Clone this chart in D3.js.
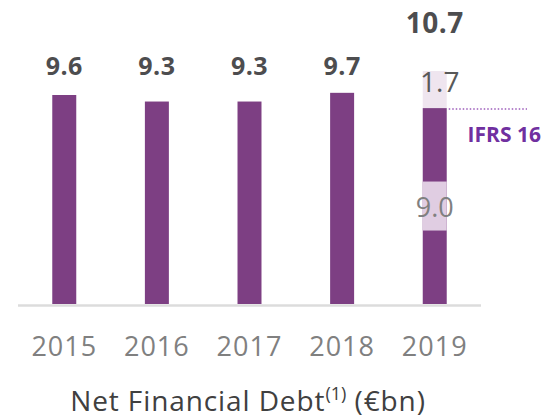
<!DOCTYPE html>
<html>
<head>
<meta charset="utf-8">
<script src="https://cdn.jsdelivr.net/npm/d3@7"></script>
<style>
  body { margin: 0; background: #fff; }
  svg { display: block; font-family: "Open Sans", sans-serif; }
</style>
</head>
<body>
<div id="chart"></div>
<script>
// --- data ---
const years = ["2015", "2016", "2017", "2018", "2019"];
const netDebt = [9.6, 9.3, 9.3, 9.7, 9.0];     // pre-IFRS 16
const ifrs16 = [0, 0, 0, 0, 1.7];             // IFRS 16 impact
const totals = [9.6, 9.3, 9.3, 9.7, 10.7];

const width = 547, height = 418;
const svg = d3.select("#chart").append("svg")
    .attr("width", width)
    .attr("height", height);

const baseY = 304;
const x = d3.scaleBand()
    .domain(years)
    .range([18, 481])
    .paddingInner(0.741)
    .paddingOuter(0.37);

const y = d3.scaleLinear()
    .domain([0, 9.6])
    .range([baseY, 95]);

const purple = "#7d3f83";

// baseline
svg.append("line")
    .attr("x1", 18).attr("x2", 481)
    .attr("y1", baseY + 1.5).attr("y2", baseY + 1.5)
    .attr("stroke", "#dcdcdc")
    .attr("stroke-width", 2.5);

// main bars
svg.selectAll("rect.main")
    .data(years)
    .join("rect")
    .attr("class", "main")
    .attr("x", d => x(d))
    .attr("y", (d, i) => y(netDebt[i]))
    .attr("width", x.bandwidth())
    .attr("height", (d, i) => baseY - y(netDebt[i]))
    .attr("fill", purple);

// IFRS 16 segment
svg.selectAll("rect.ifrs")
    .data(years.filter((d, i) => ifrs16[i] > 0))
    .join("rect")
    .attr("class", "ifrs")
    .attr("x", d => x(d))
    .attr("y", d => y(totals[years.indexOf(d)]))
    .attr("width", x.bandwidth())
    .attr("height", d => {
        const i = years.indexOf(d);
        return y(netDebt[i]) - y(totals[i]);
    })
    .attr("fill", "#efe5ef");

// top labels
const labelRow = y(9.6) - 20;
svg.selectAll("text.total")
    .data(years)
    .join("text")
    .attr("class", "total")
    .attr("x", d => x(d) + x.bandwidth() / 2)
    .attr("y", (d, i) => ifrs16[i] > 0 ? y(totals[i]) - 38 : labelRow)
    .attr("text-anchor", "middle")
    .attr("fill", "#4d4d4f")
    .style("font-weight", "bold")
    .style("font-size", (d, i) => ifrs16[i] > 0 ? "28px" : "25px")
    .style("letter-spacing", "0.5px")
    .text((d, i) => totals[i].toFixed(1));

// 2019 detail labels
const i19 = years.length - 1;
const cx19 = x(years[i19]) + x.bandwidth() / 2;

svg.append("text")
    .attr("x", cx19 + 5)
    .attr("y", y(totals[i19]) + 21)
    .attr("text-anchor", "middle")
    .attr("fill", "#595959")
    .style("font-size", "28px")
    .text(ifrs16[i19].toFixed(1));

// 9.0 label box in the middle of the bar
const midY = y(netDebt[i19] / 2);
svg.append("rect")
    .attr("x", x(years[i19]))
    .attr("y", midY - 24.5)
    .attr("width", x.bandwidth())
    .attr("height", 49)
    .attr("fill", "#e0cde2");

svg.append("text")
    .attr("x", cx19)
    .attr("y", midY + 11)
    .attr("text-anchor", "middle")
    .attr("fill", "#808080")
    .style("font-size", "27px")
    .text(netDebt[i19].toFixed(1));

// IFRS 16 marker
svg.append("line")
    .attr("x1", x(years[i19]) + x.bandwidth() + 2)
    .attr("x2", 527)
    .attr("y1", y(netDebt[i19]) + 1)
    .attr("y2", y(netDebt[i19]) + 1)
    .attr("stroke", "#b584cb")
    .attr("stroke-width", 2)
    .attr("stroke-dasharray", "1.5,2");

svg.append("text")
    .attr("x", 541)
    .attr("y", 142)
    .attr("text-anchor", "end")
    .attr("fill", "#7030a0")
    .style("font-weight", "bold")
    .style("font-size", "21px")
    .text("IFRS 16");

// year labels
svg.selectAll("text.year")
    .data(years)
    .join("text")
    .attr("class", "year")
    .attr("x", d => x(d) + x.bandwidth() / 2)
    .attr("y", 356)
    .attr("text-anchor", "middle")
    .attr("fill", "#808080")
    .style("font-size", "27px")
    .style("letter-spacing", "1px")
    .text(d => d);

// title
const title = svg.append("text")
    .attr("x", 248)
    .attr("y", 411)
    .attr("text-anchor", "middle")
    .attr("fill", "#404040")
    .style("font-size", "28px")
    .style("letter-spacing", "0.9px");
title.append("tspan").text("Net Financial Debt");
title.append("tspan").attr("dy", -11).style("font-size", "18px").style("letter-spacing", "0px").text("(1)");
title.append("tspan").attr("dy", 11).text(" (€bn)");
</script>
</body>
</html>
